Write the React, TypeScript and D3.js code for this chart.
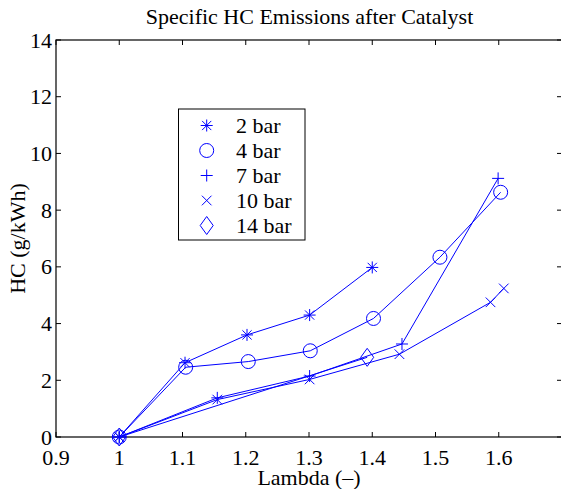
import React from "react";
import * as d3 from "d3";

const seriesNames = ["2 bar", "4 bar", "7 bar", "10 bar", "14 bar"];
const markerTypes = ["asterisk", "circle", "plus", "cross", "diamond"];

const bar2X = [1.0, 1.104, 1.202, 1.301, 1.4];
const bar2Y = [0, 2.62, 3.6, 4.3, 5.98];
const bar4X = [1.0, 1.105, 1.204, 1.302, 1.402, 1.507, 1.603];
const bar4Y = [0, 2.46, 2.66, 3.04, 4.18, 6.34, 8.63];
const bar7X = [1.0, 1.155, 1.301, 1.447, 1.599];
const bar7Y = [0, 1.38, 2.15, 3.28, 9.12];
const bar10X = [1.0, 1.155, 1.301, 1.443, 1.587, 1.608];
const bar10Y = [0, 1.32, 2.03, 2.92, 4.75, 5.24];
const bar14X = [1.0, 1.392];
const bar14Y = [0, 2.81];

const xTicks = [0.9, 1, 1.1, 1.2, 1.3, 1.4, 1.5, 1.6];
const yTicks = [0, 2, 4, 6, 8, 10, 12, 14];

const W = 561, H = 489;
const left = 56, right = 562, top = 40, bottom = 437;
const BLUE = "#0000ff";
const FONT = "'Liberation Serif', 'Times New Roman', serif";
const FS = 22;

function Marker({ type, x, y }: { type: string; x: number; y: number }) {
  const s = 6;
  const common = { stroke: BLUE, strokeWidth: 1, fill: "none" };
  if (type === "circle") return <circle cx={x} cy={y} r={7} {...common} />;
  if (type === "plus")
    return <path d={`M${x - s},${y}H${x + s}M${x},${y - s}V${y + s}`} {...common} />;
  if (type === "cross") {
    const c = 4.8;
    return <path d={`M${x - c},${y - c}L${x + c},${y + c}M${x - c},${y + c}L${x + c},${y - c}`} {...common} />;
  }
  if (type === "asterisk") {
    const c = 4.6;
    return (
      <path
        d={`M${x - s},${y}H${x + s}M${x},${y - s}V${y + s}M${x - c},${y - c}L${x + c},${y + c}M${x - c},${y + c}L${x + c},${y - c}`}
        {...common}
      />
    );
  }
  return <path d={`M${x},${y - 9}L${x + 6.5},${y}L${x},${y + 9}L${x - 6.5},${y}Z`} {...common} />;
}

export default function App() {
  const x = d3.scaleLinear().domain([0.9, 1.7]).range([left, right]);
  const y = d3.scaleLinear().domain([0, 14]).range([bottom, top]);
  const allX = [bar2X, bar4X, bar7X, bar10X, bar14X];
  const allY = [bar2Y, bar4Y, bar7Y, bar10Y, bar14Y];
  const line = d3
    .line<[number, number]>()
    .x((d) => x(d[0]))
    .y((d) => y(d[1]));

  const legX = 178.5, legY = 109, legW = 126.5, legH = 131;
  const rowY = (i: number) => 125.5 + i * 25;

  return (
    <svg
      width={W}
      height={H}
      style={{ position: "absolute", left: 0, top: 0, background: "#fff" }}
      fontFamily={FONT}
    >
      <rect x={0} y={0} width={W} height={H} fill="#fff" />
      <rect x={left} y={top} width={right - left} height={bottom - top} fill="none" stroke="#000" strokeWidth={1.2} />
      {xTicks.map((t) => (
        <g key={"x" + t}>
          <line x1={x(t)} x2={x(t)} y1={bottom} y2={bottom - 5} stroke="#000" />
          <line x1={x(t)} x2={x(t)} y1={top} y2={top + 5} stroke="#000" />
          <text x={x(t)} y={465} fontSize={FS} textAnchor="middle">
            {String(t)}
          </text>
        </g>
      ))}
      {yTicks.map((t) => (
        <g key={"y" + t}>
          <line x1={left} x2={left + 5} y1={y(t)} y2={y(t)} stroke="#000" />
          <line x1={right} x2={right - 5} y1={y(t)} y2={y(t)} stroke="#000" />
          <text x={52} y={y(t) + 7.5} fontSize={FS} textAnchor="end">
            {String(t)}
          </text>
        </g>
      ))}
      {allX.map((xs, si) => {
        const pts: [number, number][] = xs.map((v, i) => [v, allY[si][i]]);
        return (
          <g key={"s" + si}>
            <path d={line(pts) || ""} fill="none" stroke={BLUE} strokeWidth={1} />
            {pts.map((p, i) => (
              <Marker key={i} type={markerTypes[si]} x={x(p[0])} y={y(p[1])} />
            ))}
          </g>
        );
      })}
      <text x={309.5} y={24} fontSize={FS} textAnchor="middle">
        Specific HC Emissions after Catalyst
      </text>
      <text x={(left + right) / 2} y={485} fontSize={FS} textAnchor="middle">
        Lambda (–)
      </text>
      <text transform={`translate(25,238.5) rotate(-90)`} fontSize={FS} textAnchor="middle">
        HC (g/kWh)
      </text>
      <rect x={legX} y={legY} width={legW} height={legH} fill="#fff" stroke="#000" strokeWidth={1} />
      {seriesNames.map((n, i) => (
        <g key={"l" + i}>
          <Marker type={markerTypes[i]} x={206.7} y={rowY(i)} />
          <text x={236} y={rowY(i) + 7.5} fontSize={FS}>
            {n}
          </text>
        </g>
      ))}
    </svg>
  );
}
